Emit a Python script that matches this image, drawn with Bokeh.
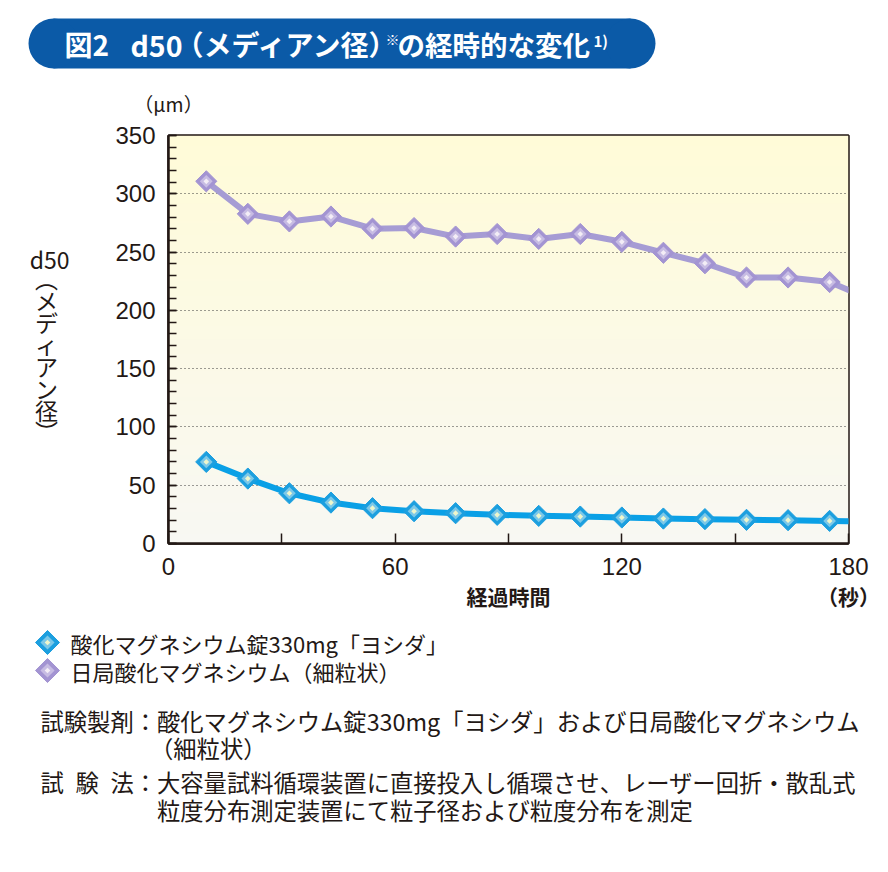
import numpy as np
from bokeh.plotting import figure
from bokeh.models import Range1d, FixedTicker, LinearAxis
from bokeh.layouts import column
from bokeh.embed import file_html
from bokeh.resources import INLINE
from bokeh.core.properties import value

# ---------------- data ----------------
time_s = [10, 21, 32, 43, 54, 65, 76, 87, 98, 109, 120, 131, 142, 153, 164, 175, 186]
d50_yoshida = [70.0, 55.7, 43.1, 35.1, 30.3, 27.7, 26.0, 24.6, 23.7, 23.1, 22.3,
               21.4, 20.9, 20.3, 20.0, 19.4, 18.7]
d50_jp = [310.7, 282.8, 276.3, 280.5, 270.1, 270.6, 263.3, 265.5, 261.3, 265.5,
          258.8, 249.4, 240.4, 228.2, 228.2, 224.3, 209.3]
series_names = ["酸化マグネシウム錠330mg「ヨシダ」", "日局酸化マグネシウム（細粒状）"]
x_ticks = [0, 60, 120, 180]
x_minor = [30, 90, 150]
y_ticks = [0, 50, 100, 150, 200, 250, 300, 350]
y_minor = list(range(0, 351, 10))
x_title = "経過時間"
x_unit = "（秒）"
y_unit = "（μm）"
y_title = ["d50", "︵", "メ", "デ", "ィ", "ア", "ン", "径", "︶"]

INK = "#231815"
JP = "Noto Sans CJK JP"
NUM = "Liberation Sans"
BLUE = ["#1c9fdf", "#7cc8e8", "#eef6cc"]
PURP = ["#a394d2", "#c7bce3", "#f3edf6"]
BLUE_LINE = "#0aa0e6"
PURP_LINE = "#a69cd4"

W = 880

# ---------------- title figure ----------------
TH = 75
t = figure(width=W, height=TH, x_range=Range1d(0, W), y_range=Range1d(TH, 0),
           output_backend="svg", toolbar_location=None, min_border=0,
           x_axis_location=None, y_axis_location=None, outline_line_color=None,
           frame_align=False)
t.grid.visible = False
pill_l, pill_r, pill_t, pill_b = 28, 655, 18, 68
rr = (pill_b - pill_t) / 2
t.quad(left=pill_l + rr, right=pill_r - rr, top=pill_t, bottom=pill_b,
       fill_color="#0b5aa7", line_color=None)
t.circle(x=[pill_l + rr, pill_r - rr], y=[pill_t + rr] * 2, radius=rr,
         fill_color="#0b5aa7", line_color=None)

def ttext(fig, x, y, s, size, color="white", bold=True, font=JP, align="left"):
    fig.text(x=[x], y=[y], text=[s], text_font=value(font),
             text_font_size=f"{size}px", text_font_style="bold" if bold else "normal",
             text_color=color, text_baseline="middle", text_align=align)

cy = 43.5
ttext(t, 64, cy, "図2", 28)
ttext(t, 130, cy, "d50", 28.5)
ttext(t, 175, cy, "（メディアン径）", 28)
ttext(t, 385, cy - 5, "※", 14)
ttext(t, 397, cy, "の経時的な変化", 27.5)
ttext(t, 593, cy - 4, "1)", 15)

# ---------------- main chart ----------------
CH = 548
p = figure(width=W, height=CH, x_range=Range1d(0, 180), y_range=Range1d(0, 350),
           output_backend="svg", toolbar_location=None,
           min_border_left=168, min_border_right=W - 848, min_border_top=60,
           min_border_bottom=CH - 60 - 408, outline_line_color=INK,
           outline_line_width=2.5, background_fill_color="white",
           border_fill_color="white", frame_align=False)

# background gradient (bottom -> top)
n = 120
img = np.empty((n, 1), dtype=np.uint32)
view = img.view(dtype=np.uint8).reshape((n, 1, 4))
for i in range(n):
    f = i / (n - 1)
    view[i, 0, 0] = int(round(248 + (255 - 248) * f))
    view[i, 0, 1] = int(round(248 + (251 - 248) * f))
    view[i, 0, 2] = int(round(243 + (216 - 243) * f))
    view[i, 0, 3] = 255
p.image_rgba(image=[img], x=0, y=0, dw=180, dh=350, level="image")

p.xgrid.visible = False
p.ygrid.ticker = FixedTicker(ticks=y_ticks[1:-1])
p.ygrid.grid_line_color = "#3a3a3a"
p.ygrid.grid_line_dash = "1 3"
p.ygrid.grid_line_width = 1

for ax in (p.xaxis[0], p.yaxis[0]):
    ax.axis_line_color = INK
    ax.axis_line_width = 2.5
    ax.major_tick_line_color = INK
    ax.minor_tick_line_color = INK
    ax.major_tick_line_width = 1.5
    ax.minor_tick_line_width = 1.5
    ax.major_tick_out = 0
    ax.minor_tick_out = 0
    ax.major_label_text_font = NUM
    ax.major_label_text_font_size = "24px"
    ax.major_label_text_color = INK

p.xaxis.ticker = FixedTicker(ticks=x_ticks, minor_ticks=x_minor)
p.xaxis.major_tick_in = 10
p.xaxis.minor_tick_in = 10
p.xaxis.major_label_standoff = 14

p.yaxis.ticker = FixedTicker(ticks=y_ticks, minor_ticks=y_minor)
p.yaxis.major_tick_in = 8
p.yaxis.minor_tick_in = 8
p.yaxis.major_label_standoff = 13


def text_axis(ticks, labels, size, bold, standoff):
    ax = LinearAxis(ticker=FixedTicker(ticks=ticks, minor_ticks=[]),
                    major_label_overrides={k: s for k, s in zip(ticks, labels)})
    ax.axis_line_color = None
    ax.major_tick_line_color = None
    ax.minor_tick_line_color = None
    ax.major_tick_in = 0
    ax.major_tick_out = 0
    ax.minor_tick_in = 0
    ax.minor_tick_out = 0
    ax.major_label_text_font = JP
    ax.major_label_text_font_size = f"{size}px"
    ax.major_label_text_font_style = "bold" if bold else "normal"
    ax.major_label_text_color = INK
    ax.major_label_standoff = standoff
    return ax

# x title and unit, as a second axis below the tick labels
p.add_layout(text_axis([90, 180], [x_title, x_unit], 21, True, 3), "below")
# y unit above the y axis
p.add_layout(text_axis([0], [y_unit], 19.5, False, 18), "above")
# y title: "d50" and the vertical characters, stacked down the left side
ypix = [258, 277, 299, 321, 343, 365, 387, 409, 430]  # page rows of each character
yvals = [(543 - v) * 350 / 408 for v in ypix]
ylabels = [y_title[0]] + [c + "\u2002" for c in y_title[1:]]
p.add_layout(text_axis(yvals, ylabels, 23, False, 43), "left")

# series
for vals, cols, lc in ((d50_jp, PURP, PURP_LINE), (d50_yoshida, BLUE, BLUE_LINE)):
    p.line(time_s, vals, line_color=lc, line_width=6, line_join="round")
    p.scatter(time_s, vals, marker="square", angle=np.pi / 4, size=15,
              fill_color=cols[0], line_color=cols[0], line_width=1)
    p.scatter(time_s, vals, marker="square", angle=np.pi / 4, size=9,
              fill_color=cols[1], line_color=None)
    p.scatter(time_s, vals, marker="square", angle=np.pi / 4, size=4,
              fill_color=cols[2], line_color=None)

# ---------------- legend / notes ----------------
NH = 868 - TH - CH
q0 = TH + CH  # page row where this figure starts
q = figure(width=W, height=NH, x_range=Range1d(0, W), y_range=Range1d(q0 + NH, q0),
           output_backend="svg", toolbar_location=None, min_border=0,
           x_axis_location=None, y_axis_location=None, outline_line_color=None,
           frame_align=False)
q.grid.visible = False
for k, (cols, name) in enumerate(((BLUE, series_names[0]), (PURP, series_names[1]))):
    yy = 642 + 28 * k
    q.scatter([47], [yy], marker="square", angle=np.pi / 4, size=17,
              fill_color=cols[0], line_color=cols[0])
    q.scatter([47], [yy], marker="square", angle=np.pi / 4, size=10,
              fill_color=cols[1], line_color=None)
    q.scatter([47], [yy], marker="square", angle=np.pi / 4, size=4,
              fill_color=cols[2], line_color=None)
    ttext(q, 70, yy, name, 22, color=INK, bold=False)

FS = 23.3
ttext(q, 40, 720, "試験製剤：酸化マグネシウム錠330mg「ヨシダ」および日局酸化マグネシウム", FS, color=INK, bold=False)
ttext(q, 40 + 4.7 * FS, 747, "（細粒状）", FS, color=INK, bold=False)
for k, ch in enumerate(["試", "験", "法"]):
    ttext(q, 40 + k * 1.5 * FS, 781, ch, FS, color=INK, bold=False)
ttext(q, 40 + 4 * FS, 781, "：大容量試料循環装置に直接投入し循環させ、レーザー回折・散乱式", FS, color=INK, bold=False)
ttext(q, 40 + 5 * FS, 809, "粒度分布測定装置にて粒子径および粒度分布を測定", FS, color=INK, bold=False)

layout = column(t, p, q, spacing=0)
open("out.html", "w").write(file_html(layout, INLINE))
